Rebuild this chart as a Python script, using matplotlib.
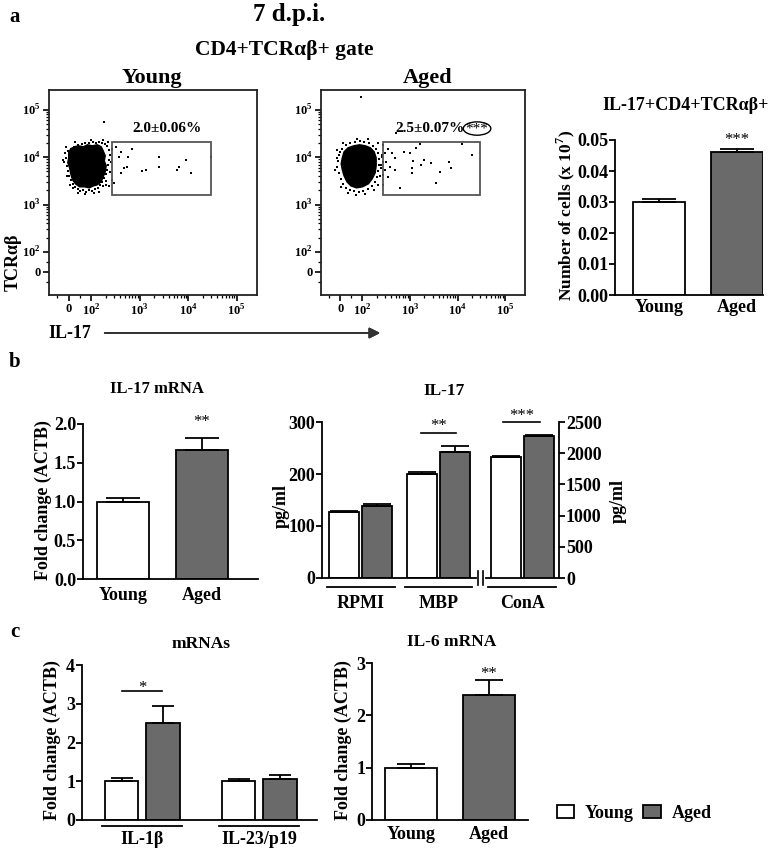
import matplotlib.pyplot as plt
import numpy as np
from matplotlib.patches import Ellipse, Patch, Rectangle

plt.rcParams['font.family'] = 'Liberation Serif'
plt.rcParams['font.weight'] = 'bold'
plt.rcParams['mathtext.fontset'] = 'custom'
plt.rcParams['mathtext.rm'] = 'Liberation Serif:bold'
plt.rcParams['mathtext.bf'] = 'Liberation Serif:bold'
plt.rcParams['axes.linewidth'] = 1.3

# ---------------- data ----------------
groups = ['Young', 'Aged']

# a: flow cytometry, CD4+TCRab+ gate (IL-17 vs TCRab)
gate_x = [266, 30000]
gate_y = [1600, 20500]
young_pct = '2.0±0.06%'
aged_pct = '2.5±0.07%'

# dense cell cloud (outline) + single events
young_core_x = [0, 9, 26, 43, 65, 83, 105, 133, 160, 176, 194, 185, 203, 194, 176, 160, 133,
                110, 91, 70, 48, 30, 17, 9, 4, -4, 0]
young_core_y = [12400, 15100, 16600, 17400, 16600, 18300, 17400, 18300, 16600, 13600, 10700,
                8400, 6580, 4910, 3850, 3020, 2610, 2480, 2250, 2370, 2370, 2740, 3330, 4460,
                5970, 7620, 9710]
young_dots_x = [-17, -13, -22, -9, -4, 0, 9, 17, 26, 39, 52, 65, 78, 91, 105, 121, 139, 153, 168,
                185, 203, 213, 223, 234, 245, 234, 213, 194, 168, 146, 127, 110, 91, 74, 57, 39,
                22, 9, -4, 257, 245, 203, 176, 115, 74, 43, 17, -9, -26, -13, 30, 100, 176, 223,
                270, 270, 146, 4, 234,
                326, 413, 376, 572, 695, 548, 413, 476, 1115, 1350, 2490, 2490, 5840, 6410, 8930,
                11300, 296, 203, 185, 29100]
young_dots_y = [12400, 9710, 8000, 6580, 5160, 4040, 3330, 2740, 2370, 2150, 1950, 2050, 1850,
                2050, 1950, 2150, 2250, 2610, 3020, 3670, 4460, 5420, 6900, 8810, 11200, 14300,
                17400, 19200, 20100, 21100, 20100, 21100, 20100, 20100, 19200, 18300, 16600,
                15100, 13600, 8000, 4910, 3170, 2480, 1760, 1680, 1760, 2250, 4040, 8810, 16600,
                21100, 23400, 23400, 21100, 15100, 3330, 1850, 2610, 2480,
                16600, 13000, 10200, 10200, 15100, 6270, 4680, 5970, 5160, 5420, 10200, 6270,
                5420, 6270, 8810, 4680, 2870, 2610, 56000, 10200]

aged_core_x = [9, 17, 35, 61, 87, 115, 146, 176, 194, 194, 185, 160, 133, 100, 74, 48, 30, 17,
               9, 4]
aged_core_y = [9710, 13000, 15800, 17400, 18300, 17400, 15800, 13000, 9710, 6580, 4680, 3500,
               2740, 2370, 2250, 2480, 3020, 4040, 5420, 7260]
aged_dots_x = [-4, -9, -13, -4, 4, 13, 26, 43, 61, 83, 105, 133, 160, 185, 203, 213, 223, 223,
               213, 194, 168, 139, 110, 87, 65, 43, 26, 9, 0, 245, 234, 213, 176, 115, 70, 35, 4,
               -22, -17, 13, 74, 133, 213, 257, 270, -13,
               270, 342, 296, 413, 476, 311, 376, 296, 476, 342, 270, 603, 764, 1010, 1350, 1630,
               1170, 1115, 1115, 1710, 1970, 2740, 4190, 3470, 6730, 7390, 12400, 19800, 499,
               257, 245, 270, 95]
aged_dots_y = [11200, 8400, 6270, 4680, 3500, 2740, 2250, 2050, 1950, 1850, 1950, 2150, 2480, 3020,
               3850, 5160, 6900, 9250, 12400, 15100, 17400, 20100, 21100, 22200, 21100, 20100,
               18300, 15100, 13000, 5970, 4040, 2610, 2050, 1680, 1600, 1760, 2370, 5420, 9710,
               20100, 24500, 24500, 20100, 11200, 8000, 14300,
               18300, 15100, 12400, 12400, 9710, 8000, 6270, 5420, 5420, 3850, 2610, 2250, 13000,
               12400, 15800, 19200, 8400, 5970, 4680, 6900, 8810, 7620, 4910, 2870, 8000, 5970,
               19200, 11200, 32800, 10200, 6900, 4240, 190000]

# a: IL-17+CD4+TCRab+ cell number (x 10^7)
cells_mean = [0.030, 0.046]
cells_err = [0.001, 0.0012]

# b: IL-17 mRNA
il17_mrna_mean = [1.0, 1.66]
il17_mrna_err = [0.045, 0.16]

# b: IL-17 protein (RPMI, MBP on left axis; ConA on right axis)
stim_labels = ['RPMI', 'MBP', 'ConA']
il17_young = [126, 200, 1943]
il17_young_err = [3, 3, 15]
il17_aged = [138, 243, 2270]
il17_aged_err = [5, 10, 16]

# c: mRNAs
mrna_labels = ['IL-1β', 'IL-23/p19']
mrna_young = [1.0, 1.0]
mrna_young_err = [0.08, 0.06]
mrna_aged = [2.51, 1.06]
mrna_aged_err = [0.43, 0.09]

# c: IL-6 mRNA
il6_mean = [1.0, 2.39]
il6_err = [0.065, 0.28]

WHITE = 'white'
GRAY = '#6a6a6a'

# ---------------- layout helpers ----------------
W, H = 778, 850
fig = plt.figure(figsize=(W / 100, H / 100), dpi=100)


def add_ax(l, t, r, b):
    return fig.add_axes([l / W, 1 - b / H, (r - l) / W, (b - t) / H])


def ftext(px, py, s, size, **kw):
    fig.text(px / W, 1 - py / H, s, fontsize=size, ha=kw.pop('ha', 'center'),
             va=kw.pop('va', 'center'), **kw)


def style_bar_axes(ax, xpad):
    for sp in ['top', 'right']:
        ax.spines[sp].set_visible(False)
    ax.tick_params(axis='x', length=0, labelsize=13, pad=xpad)
    ax.tick_params(axis='y', direction='out', length=4, width=1.3, labelsize=13, pad=1)


def draw_bars(ax, x, vals, errs, colors, width, cap):
    ax.bar(x, vals, width, color=colors, edgecolor='black', linewidth=1.3, zorder=2)
    ax.errorbar(x, vals, yerr=[np.zeros(len(vals)), errs], fmt='none', ecolor='black',
                elinewidth=1.3, capsize=cap, capthick=1.3, zorder=3)


def star(ax, x, y, s):
    ax.text(x, y, s, ha='center', va='center', fontsize=12, fontweight='normal', clip_on=False)


# ---------------- a: flow plots ----------------
flow_major = [0, 1e2, 1e3, 1e4, 1e5]
flow_labels = ['0', r'$10^2$', r'$10^3$', r'$10^4$', r'$10^5$']
flow_minor = [k * 10 ** d for d in (2, 3, 4) for k in range(2, 10)] + [-50, 50]


def flow_axes(ax, core_x, core_y, dots_x, dots_y):
    ax.set_xscale('symlog', linthresh=100, linscale=0.42)
    ax.set_yscale('symlog', linthresh=100, linscale=0.38)
    ax.fill(core_x, core_y, color='black', lw=1.0, zorder=2)
    ax.scatter(dots_x, dots_y, s=3.5, marker='s', color='black', lw=0, zorder=2)
    ax.add_patch(Rectangle((gate_x[0], gate_y[0]), gate_x[1] - gate_x[0], gate_y[1] - gate_y[0],
                           fill=False, ec='#555555', lw=1.3, zorder=3))
    ax.set_xlim(-87, 262144)
    ax.set_ylim(-116, 262144)
    ax.set_xticks(flow_major)
    ax.set_xticklabels(flow_labels)
    ax.set_yticks(flow_major)
    ax.set_yticklabels(flow_labels)
    ax.set_xticks(flow_minor, minor=True)
    ax.set_yticks(flow_minor, minor=True)
    ax.tick_params(which='major', direction='out', length=4, width=1.2, labelsize=9, pad=2)
    ax.tick_params(which='minor', direction='out', length=2.5, width=0.9)
    for sp in ax.spines.values():
        sp.set_color('#222222')


ax_y = add_ax(49, 90, 257, 295)
flow_axes(ax_y, young_core_x, young_core_y, young_dots_x, young_dots_y)
ax_a = add_ax(321, 90, 525, 295)
flow_axes(ax_a, aged_core_x, aged_core_y, aged_dots_x, aged_dots_y)

ftext(167, 128, young_pct, 11)
ftext(430, 128, aged_pct, 11)
ftext(477, 129, '***', 11, fontweight='normal')
ax_a.add_patch(Ellipse((0.765, 0.812), 0.135, 0.065, transform=ax_a.transAxes,
                       fill=False, ec='black', lw=1.0, clip_on=False))

ftext(15, 17, 'a', 15)
ftext(289, 14, '7 d.p.i.', 18)
ftext(284, 50, 'CD4+TCRαβ+ gate', 15.5)
ftext(152, 78, 'Young', 16)
ftext(428, 78, 'Aged', 16)
ftext(13, 262, 'TCRαβ', 13, rotation=90)
ftext(48, 333, 'IL-17', 13, ha='left')
fig.add_artist(plt.annotate('', xy=(383 / W, 1 - 333 / H), xytext=(102 / W, 1 - 333 / H),
                            xycoords='figure fraction', textcoords='figure fraction',
                            arrowprops=dict(arrowstyle='-|>', color='#333333', lw=1.3,
                                            mutation_scale=16)))

# ---------------- a: cell number ----------------
ax = add_ax(615, 140, 763, 295)
xpos = np.arange(len(groups))
draw_bars(ax, xpos, cells_mean, cells_err, [WHITE, GRAY], 0.667, 12)
ax.set_xlim(-0.564, 1.333)
ax.set_ylim(0, 0.05)
ax.set_yticks(np.arange(0, 0.051, 0.01))
ax.set_yticklabels([f'{v:.2f}' for v in np.arange(0, 0.051, 0.01)])
ax.set_xticks(xpos)
ax.set_xticklabels(groups)
style_bar_axes(ax, 3)
star(ax, 1, 0.0501, '***')
ftext(686, 105, 'IL-17+CD4+TCRαβ+', 13)
ftext(566, 215, r'Number of cells (x 10$^7$)', 12.5, rotation=90)

# ---------------- b: IL-17 mRNA ----------------
ftext(15, 362, 'b', 15)
ax = add_ax(83, 424, 258, 579)
draw_bars(ax, xpos, il17_mrna_mean, il17_mrna_err, [WHITE, GRAY], 0.66, 12)
ax.set_xlim(-0.506, 1.709)
ax.set_ylim(0, 2.0)
ax.set_yticks(np.arange(0, 2.01, 0.5))
ax.set_yticklabels([f'{v:.1f}' for v in np.arange(0, 2.01, 0.5)])
ax.set_xticks(xpos)
ax.set_xticklabels(groups)
style_bar_axes(ax, 6)
star(ax, 1, 2.03, '**')
ftext(157, 389, 'IL-17 mRNA', 12)
ftext(43, 500, 'Fold change (ACTB)', 13, rotation=90)

# ---------------- b: IL-17 protein ----------------
ax = add_ax(322, 422, 559, 578)
ax2 = ax.twinx()
gpos = np.array([0, 0.997, 2.067])
off, bw = 0.212, 0.385
# RPMI and MBP on the left axis
draw_bars(ax, gpos[:2] - off, il17_young[:2], il17_young_err[:2], WHITE, bw, 10)
draw_bars(ax, gpos[:2] + off, il17_aged[:2], il17_aged_err[:2], GRAY, bw, 10)
# ConA on the right axis
draw_bars(ax2, [gpos[2] - off], il17_young[2:], il17_young_err[2:], WHITE, bw, 10)
draw_bars(ax2, [gpos[2] + off], il17_aged[2:], il17_aged_err[2:], GRAY, bw, 10)
ax.set_xlim(-0.497, 2.54)
ax.set_ylim(0, 300)
ax.set_yticks([0, 100, 200, 300])
ax2.set_ylim(0, 2500)
ax2.set_yticks(np.arange(0, 2501, 500))
ax.set_xticks(gpos)
ax.set_xticklabels(stim_labels)
style_bar_axes(ax, 12)
for sp in ['top', 'left', 'bottom']:
    ax2.spines[sp].set_visible(False)
ax2.tick_params(axis='y', direction='out', length=4, width=1.3, labelsize=13, pad=1)
# group underlines
for g in gpos:
    ax.plot([g - off - bw / 2 - 0.03, g + off + bw / 2 + 0.03], [-0.06, -0.06], color='black',
            lw=1.3, transform=ax.get_xaxis_transform(), clip_on=False)
# axis break
ax.plot([1.51, 1.56], [0, 0], color='white', lw=3, transform=ax.get_xaxis_transform(),
        clip_on=False, zorder=5)
for bx in (1.505, 1.565):
    ax.plot([bx, bx], [-0.045, 0.045], color='black', lw=1.2,
            transform=ax.get_xaxis_transform(), clip_on=False, zorder=6)
# significance
ax.plot([gpos[1] - 0.225, gpos[1] + 0.225], [279, 279], color='black', lw=1.2, clip_on=False)
star(ax, gpos[1], 292, '**')
ax.plot([gpos[2] - 0.24, gpos[2] + 0.23], [300.5, 300.5], color='black', lw=1.2, clip_on=False)
star(ax, gpos[2], 311, '***')
ftext(444, 391, 'IL-17', 12.5)
ftext(281, 506, 'pg/ml', 13, rotation=90)
ftext(618, 501, 'pg/ml', 13, rotation=90)

# ---------------- c: mRNAs ----------------
ftext(15, 632, 'c', 15)
ax = add_ax(82, 665, 317, 820)
mpos = np.arange(len(mrna_labels))
moff, mbw = 0.177, 0.29
draw_bars(ax, mpos - moff, mrna_young, mrna_young_err, WHITE, mbw, 8)
draw_bars(ax, mpos + moff, mrna_aged, mrna_aged_err, GRAY, mbw, 8)
ax.set_xlim(-0.515, 1.494)
ax.set_ylim(0, 4)
ax.set_yticks(range(5))
ax.set_xticks(mpos)
ax.set_xticklabels(mrna_labels)
style_bar_axes(ax, 8)
for g in mpos:
    ax.plot([g - moff - mbw / 2 - 0.02, g + moff + mbw / 2 + 0.02], [-0.039, -0.039],
            color='black', lw=1.3, transform=ax.get_xaxis_transform(), clip_on=False)
ax.plot([-0.17, 0.17], [3.33, 3.33], color='black', lw=1.2)
star(ax, 0, 3.41, '*')
ftext(201, 644, 'mRNAs', 12.5)
ftext(52, 740, 'Fold change (ACTB)', 13, rotation=90)

# ---------------- c: IL-6 mRNA ----------------
ax = add_ax(372, 663, 528, 820)
draw_bars(ax, xpos, il6_mean, il6_err, [WHITE, GRAY], 0.667, 10)
ax.set_xlim(-0.5, 1.5)
ax.set_ylim(0, 3)
ax.set_yticks(range(4))
ax.set_xticks(xpos)
ax.set_xticklabels(groups)
style_bar_axes(ax, 4)
star(ax, 1, 2.795, '**')
ftext(452, 642, 'IL-6 mRNA', 12.5)
ftext(343, 740, 'Fold change (ACTB)', 13, rotation=90)

# legend
fig.legend(handles=[Patch(fc=WHITE, ec='black', lw=1.3, label='Young'),
                    Patch(fc=GRAY, ec='black', lw=1.3, label='Aged')],
           loc='center', bbox_to_anchor=(634 / W, 1 - 813 / H), ncol=2, frameon=False,
           fontsize=13, handlelength=0.95, handleheight=0.75, columnspacing=0.55,
           handletextpad=0.6)

fig.savefig('out.png', dpi=100)
